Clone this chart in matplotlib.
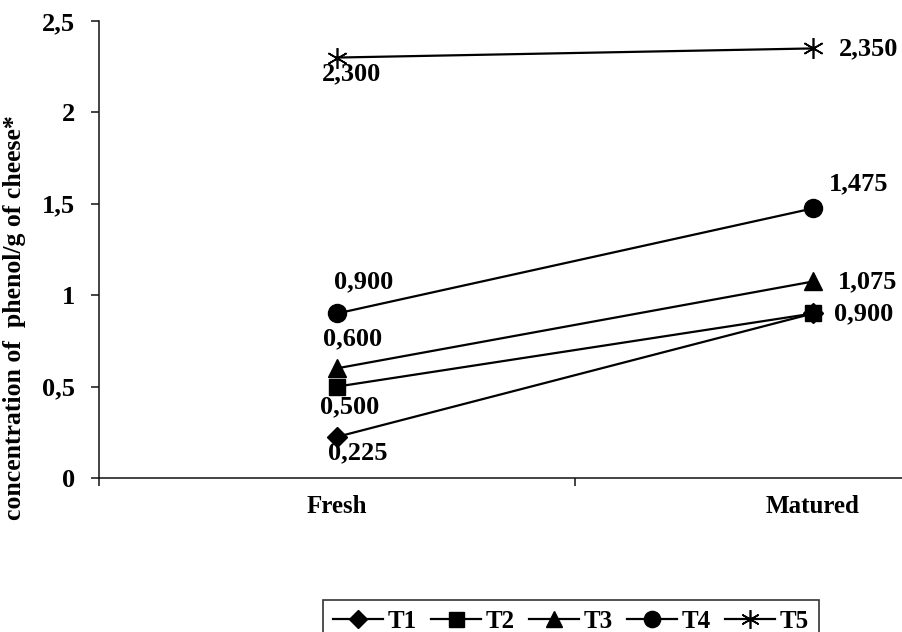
import matplotlib
matplotlib.use("Agg")
import matplotlib.pyplot as plt
from matplotlib.ticker import FixedLocator

categories = ["Fresh", "Matured"]
series_names = ["T1", "T2", "T3", "T4", "T5"]
t1 = [0.225, 0.900]
t2 = [0.500, 0.900]
t3 = [0.600, 1.075]
t4 = [0.900, 1.475]
t5 = [2.300, 2.350]
series_values = [t1, t2, t3, t4, t5]
y_ticks = [0, 0.5, 1, 1.5, 2, 2.5]
y_tick_labels = ["0", "0,5", "1", "1,5", "2", "2,5"]
y_label = "concentration of  phenol/g of cheese*"

markers = ["D", "s", "^", "o", (6, 2, 0)]
msizes = [10, 12, 13, 13, 15]

# label offsets in pixels (dx right, dy down) for [fresh, matured]; None = no label
px_offsets = [
    [(21, 16), None],
    [(13, 20), (51, 0)],
    [(16, -30), (55, 0)],
    [(27, -32), (46, -25)],
    [(15, 16), (56, 0)],
]

FONT = "Liberation Serif"
FS_NUM = 19
FS_TXT = 18
plt.rcParams["font.family"] = [FONT, "DejaVu Serif"]
plt.rcParams["font.weight"] = "bold"

fig = plt.figure(figsize=(9.03, 6.32), dpi=100)
W, H = 903, 632
ax = fig.add_axes([99 / W, 1 - 478 / H, 952 / W, 457 / H])

xs = [0.5, 1.5]
handles = []
for name, vals, mk, ms, offs in zip(series_names, series_values, markers, msizes, px_offsets):
    (h,) = ax.plot(xs, vals, color="black", lw=1.6, marker=mk, markersize=ms,
                   markerfacecolor="black", markeredgecolor="black",
                   markeredgewidth=1.2 if mk == (6, 2, 0) else 1.0,
                   label=name, clip_on=False, zorder=3)
    handles.append(h)
    for x, v, off in zip(xs, vals, offs):
        if off is None:
            continue
        dx, dy = off
        ax.annotate(f"{v:.3f}".replace(".", ","), (x, v),
                    xytext=(dx / 1.389, -dy / 1.389), textcoords="offset points",
                    ha="center", va="center", fontsize=FS_NUM, fontweight="bold",
                    family=FONT, zorder=4)

ax.set_xlim(0, 2)
ax.set_ylim(0, 2.5)
ax.spines["top"].set_visible(False)
ax.spines["right"].set_visible(False)
for s in ("left", "bottom"):
    ax.spines[s].set_linewidth(1.1)
    ax.spines[s].set_color("#111111")

ax.set_yticks(y_ticks)
ax.set_yticklabels(y_tick_labels)
ax.tick_params(axis="y", direction="out", length=6, width=1.1, pad=11,
               labelsize=FS_NUM, color="#111111")
ax.xaxis.set_major_locator(FixedLocator([0, 1, 2]))
ax.set_xticklabels(["", "", ""])
ax.xaxis.set_minor_locator(FixedLocator(xs))
ax.set_xticklabels(categories, minor=True)
ax.tick_params(axis="x", which="major", direction="out", length=6, width=1.1, color="#111111")
ax.tick_params(axis="x", which="minor", length=0, pad=12, labelsize=FS_TXT)
for lab in ax.get_yticklabels() + ax.get_xticklabels(minor=True):
    lab.set_fontweight("bold")

fig.text(15 / W, 1 - 318 / H, y_label, rotation=90, ha="center", va="center",
         fontsize=18.5, fontweight="bold", family=FONT)

leg = fig.legend(handles=handles, labels=series_names, loc="upper left",
                 bbox_to_anchor=(323 / W, 1 - 600 / H), ncol=5, frameon=True,
                 fancybox=False, edgecolor="black", fontsize=FS_TXT,
                 handlelength=2.0, handletextpad=0.2, columnspacing=0.55,
                 borderaxespad=0, borderpad=0.4, markerscale=0.9)
leg.get_frame().set_linewidth(1.2)
for t in leg.get_texts():
    t.set_fontweight("bold")

fig.savefig("out.png", dpi=100)
